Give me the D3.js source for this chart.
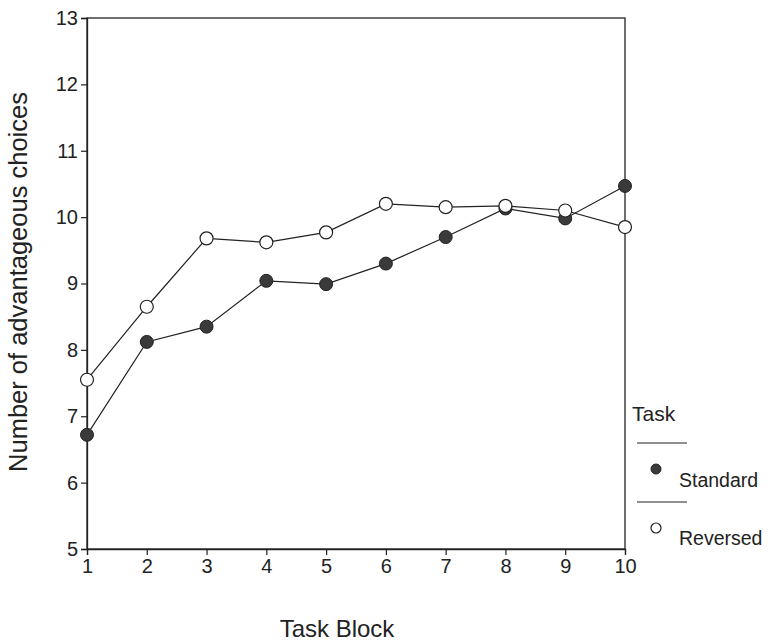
<!DOCTYPE html>
<html><head><meta charset="utf-8">
<script src="https://cdn.jsdelivr.net/npm/d3@7"></script>
<style>body{margin:0;background:#fff}svg{display:block}text{font-family:"Liberation Sans",Arial,sans-serif;fill:#222}</style>
</head><body>
<svg id="c" width="771" height="643"></svg>
<script>
const blocks = [1,2,3,4,5,6,7,8,9,10];
const standard = [6.72,8.12,8.35,9.04,8.99,9.30,9.70,10.13,9.98,10.47];
const reversed = [7.55,8.65,9.68,9.62,9.77,10.20,10.15,10.17,10.10,9.85];
const yTicks = [5,6,7,8,9,10,11,12,13];
const seriesNames = ["Standard","Reversed"];

const svg = d3.select("#c");
const L=87,R=625,T=18,B=549;
const x = d3.scaleLinear().domain([1,10]).range([L,R]);
const y = d3.scaleLinear().domain([5,13]).range([B,T]);

svg.append("rect").attr("x",L).attr("y",T).attr("width",R-L).attr("height",B-T)
  .attr("fill","none").attr("stroke","#222").attr("stroke-width",1.3);

const ya = svg.append("g").attr("transform",`translate(${L},0)`)
  .call(d3.axisLeft(y).tickValues(yTicks).tickSize(6).tickPadding(3).tickFormat(d3.format("d")));
const xa = svg.append("g").attr("transform",`translate(0,${B})`)
  .call(d3.axisBottom(x).tickValues(blocks).tickSize(6).tickPadding(4).tickFormat(d3.format("d")));
[ya,xa].forEach(g=>{
  g.attr("font-size",null).attr("font-family",null);
  g.select(".domain").attr("stroke","#222").attr("stroke-width",1.3);
  g.selectAll(".tick line").attr("stroke","#222").attr("stroke-width",1.2);
  g.selectAll(".tick text").style("font-size","20px").attr("fill","#222")
    .style("font-family",'"Liberation Sans",Arial,sans-serif');
});

const line = d3.line().x((d,i)=>x(blocks[i])).y(d=>y(d));
[standard,reversed].forEach(s=>{
  svg.append("path").datum(s).attr("d",line).attr("fill","none")
    .attr("stroke","#222").attr("stroke-width",1.2);
});
svg.selectAll(".ms").data(standard).enter().append("circle")
  .attr("cx",(d,i)=>x(blocks[i])).attr("cy",d=>y(d)).attr("r",6.5)
  .attr("fill","#3a3a3a").attr("stroke","#222").attr("stroke-width",1);
svg.selectAll(".mr").data(reversed).enter().append("circle")
  .attr("cx",(d,i)=>x(blocks[i])).attr("cy",d=>y(d)).attr("r",6.5)
  .attr("fill","#fff").attr("stroke","#222").attr("stroke-width",1.2);

svg.append("text").attr("transform","translate(27,282) rotate(-90)")
  .attr("text-anchor","middle").attr("font-size",25.5).text("Number of advantageous choices");
svg.append("text").attr("x",337).attr("y",637).attr("text-anchor","middle")
  .attr("font-size",24).text("Task Block");

svg.append("text").attr("x",632).attr("y",421).attr("font-size",21).text("Task");
[443,502].forEach(yy=>svg.append("line").attr("x1",637).attr("x2",687).attr("y1",yy).attr("y2",yy)
  .attr("stroke","#222").attr("stroke-width",1.2));
svg.append("circle").attr("cx",656).attr("cy",469).attr("r",5).attr("fill","#3a3a3a").attr("stroke","#222");
svg.append("circle").attr("cx",656).attr("cy",528).attr("r",5).attr("fill","#fff").attr("stroke","#222").attr("stroke-width",1.2);
svg.append("text").attr("x",679).attr("y",487).attr("font-size",19.5).text(seriesNames[0]);
svg.append("text").attr("x",679).attr("y",545).attr("font-size",19.5).text(seriesNames[1]);
</script>
</body></html>
